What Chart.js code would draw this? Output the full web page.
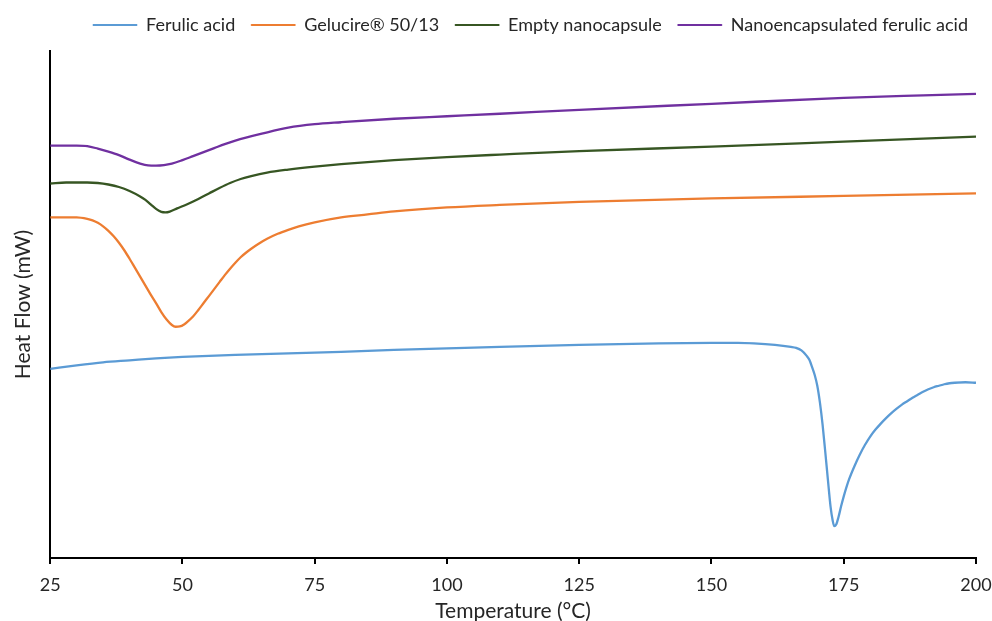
<!DOCTYPE html>
<html>
<head>
<meta charset="utf-8">
<script src="https://cdn.jsdelivr.net/npm/chart.js@4.4.1/dist/chart.umd.min.js"></script>
<style>
html,body{margin:0;padding:0;background:#fff;}
#wrap{width:992px;height:621px;position:relative;}
</style>
</head>
<body>
<div id="wrap"><canvas id="c"></canvas></div>
<script>
// Series labels
const seriesNames = ["Ferulic acid", "Gelucire® 50/13", "Empty nanocapsule", "Nanoencapsulated ferulic acid"];

// Ferulic acid (temperature °C, heat flow arbitrary units)
const faTemp = [25,30,35,40,45,50,60,70,80,90,100,110,125,140,150,155,158,162,165,166,167,168,168.5,169,169.5,170,170.5,171,171.5,172,172.5,172.9,173.2,173.6,174,174.5,175,175.5,176,177,178,179,180,181,182,183,184,185,186,187,188,189,190,191,192,193,194,195,196,198,200];
const faHeat = [190,193.5,196.5,198.5,200.5,202,204,205.5,207,209,210.5,212,214,215.5,216,216,215.5,214,212,211,208.5,203,199,192,184,173,156,134,107,79,52,38,32,34,41,52,62,71,79,92,103.5,113.5,122,129,135,140.5,145.5,150,154,157.5,161,164,167,169.5,171.5,173,174.5,175.5,176,176.5,176];

// Gelucire 50/13
const gelTemp = [25,30,32,33,34,35,36,37,38,39,40,41,42,43,44,45,46,47,48,48.7,49.5,50.3,51,52,53,54,55,56,57,58,59,60,61,62,63,64.4,66,68,70,72,75,80,85,90,100,110,125,150,175,200];
const gelHeat = [342,342,340.5,339,336.5,333,328.5,323,316.5,309,300.5,291.5,282.5,273.5,264.5,256,247,239.5,234,232.2,232.5,234.5,237.5,242.5,249,256,263,270,277,284,290.5,296.5,302,306.5,310.5,315.5,320.5,325.5,329.5,333,337,342,345,348,352,354.5,357.5,361,363.5,366];

// Empty nanocapsule
const empTemp = [25,28,32,34,36,38,40,42,43,44,45,46,46.8,47.6,49,51,53,55,57,59,61,63,66,70,75,80,90,100,110,125,150,175,190,200];
const empHeat = [376,377,377,376.5,375,372.5,368.5,363,359.5,355,350.5,347.5,347,347.8,351,355.5,360.5,366,371.5,376.5,380.5,383.5,387,390,393,395.5,399.5,402.5,405,408.5,413,418,421,423];

// Nanoencapsulated ferulic acid
const nanoTemp = [25,30,32,34,36,38,40,42,43.5,45,46.5,48,50,52,54,56,58,60,62,65,70,75,80,90,100,110,125,150,175,190,200];
const nanoHeat = [414,414,413.5,411,408,404.5,400,396,394.2,394,394.5,396,399.5,403.5,407.5,411.5,415.5,419,422,426,432,435.5,437.5,441,443.5,446,450,456,462,464.5,466];

// Axis ticks
const xTicks = [25,50,75,100,125,150,175,200];

const colors = ["#5B9BD5", "#ED7D31", "#375623", "#7030A0"];
const temps = [faTemp, gelTemp, empTemp, nanoTemp];
const heats = [faHeat, gelHeat, empHeat, nanoHeat];

const FONT = "Lato, 'Open Sans', sans-serif";
const TXT = '#262626';

const datasets = seriesNames.map((name, i) => ({
  label: name,
  data: temps[i].map((t, j) => ({x: t, y: heats[i][j]})),
  borderColor: colors[i],
  backgroundColor: colors[i],
  borderWidth: 2.3,
  pointRadius: 0,
  fill: false,
  cubicInterpolationMode: 'monotone'
}));

// Small layout tweak: extra gap under the legend and shift it to the right like the original
const legendTweak = {
  id: 'legendTweak',
  beforeInit(chart) {
    const lg = chart.legend;
    if (!lg) return;
    const orig = lg.fit;
    lg.fit = function () { orig.call(this); this.height += 7; };
  },
  afterLayout(chart) {
    const lg = chart.legend;
    if (!lg) return;
    lg.left += 29;
    lg.right += 29;
  }
};

new Chart(document.getElementById('c'), {
  type: 'line',
  data: { datasets },
  plugins: [legendTweak],
  options: {
    responsive: true,
    maintainAspectRatio: false,
    animation: false,
    layout: { padding: { left: 11, right: 0, top: 0, bottom: 0 } },
    plugins: {
      tooltip: { enabled: false },
      legend: {
        position: 'top',
        align: 'center',
        labels: {
          boxWidth: 44,
          boxHeight: 1,
          padding: 16,
          color: TXT,
          font: { family: FONT, size: 18 },
          generateLabels: (chart) => Chart.defaults.plugins.legend.labels.generateLabels(chart).map(l => Object.assign(l, { lineWidth: 1 }))
        }
      }
    },
    scales: {
      x: {
        type: 'linear',
        min: 25,
        max: 200,
        afterBuildTicks: (axis) => { axis.ticks = xTicks.map(v => ({value: v})); },
        afterFit: (axis) => { axis.paddingRight = 16; },
        ticks: { color: TXT, font: { family: FONT, size: 18, lineHeight: 1 }, padding: 12, maxRotation: 0 },
        grid: { drawOnChartArea: false, drawTicks: true, tickLength: 6, color: '#000', lineWidth: 2 },
        border: { color: '#000', width: 2 },
        title: { display: true, text: 'Temperature (°C)', color: TXT, font: { family: FONT, size: 21, lineHeight: 0.9 }, padding: { top: -4, bottom: 0 } }
      },
      y: {
        type: 'linear',
        min: 0,
        max: 509,
        ticks: { display: false },
        grid: { display: false },
        border: { color: '#000', width: 2 },
        title: { display: true, text: 'Heat Flow (mW)', color: TXT, font: { family: FONT, size: 21 }, padding: { top: 0, bottom: 6 } }
      }
    }
  }
});
</script>
</body>
</html>
